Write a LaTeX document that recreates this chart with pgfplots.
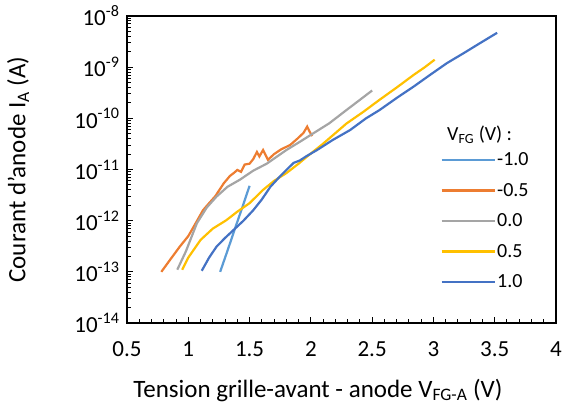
\documentclass[border=0pt]{standalone}
\usepackage{pgfplots}
\pgfplotsset{compat=1.18}
\usepackage{fontspec}
\setmainfont{Carlito}
\definecolor{cLB}{HTML}{5B9BD5}
\definecolor{cOR}{HTML}{ED7D31}
\definecolor{cGR}{HTML}{A5A5A5}
\definecolor{cYE}{HTML}{FFC000}
\definecolor{cDB}{HTML}{4472C4}
\begin{document}
\begin{tikzpicture}
\begin{axis}[
  scale only axis, width=429pt, height=307pt,
  xmin=0.5, xmax=4, ymin=1e-14, ymax=1e-8, ymode=log,
  xtick={0.5,1,1.5,2,2.5,3,3.5,4}, minor x tick num=4,
  ytick={1e-14,1e-13,1e-12,1e-11,1e-10,1e-9,1e-8},
  yticklabels={10\textsuperscript{-14},10\textsuperscript{-13},10\textsuperscript{-12},10\textsuperscript{-11},10\textsuperscript{-10},10\textsuperscript{-9},10\textsuperscript{-8}},
  xticklabel style={/pgf/number format/assume math mode=true, yshift=-15pt},
  yticklabel style={xshift=-4pt},
  tick align=inside, xtick pos=bottom, ytick pos=left,
  major tick length=6pt, minor tick length=4pt,
  axis line style={line width=1.2pt}, tick style={black, line width=1pt},
  tick label style={font=\fontsize{23}{28}\selectfont},
  label style={font=\fontsize{25}{30}\selectfont},
  xlabel={Tension grille-avant - anode V\textsubscript{FG-A} (V)},
  ylabel={Courant d'anode I\textsubscript{A} (A)},
  xlabel style={at={(rel axis cs:0.445,0)}, anchor=center, yshift=-67pt},
  ylabel style={at={(rel axis cs:0,0.5)}, anchor=center, yshift=109pt},
  legend style={draw=none, fill=none, at={(rel axis cs:0.730,0.56)}, anchor=north west, row sep=13pt, font=\fontsize{20}{24}\selectfont, inner sep=0pt, nodes={inner sep=1.5pt}},
  legend cell align=left,
  legend image code/.code={\draw[#1, line width=2.3pt] (0pt,0pt) -- (53pt,0pt);},
  every axis plot/.append style={line width=2.2pt},
]
\addplot[cLB] coordinates {(1.26,1.0e-13) (1.32,2.6e-13) (1.38,6.9e-13) (1.44,1.8e-12) (1.50,4.8e-12)};
\addlegendentry{-1.0}
\addplot[cOR] coordinates {(0.78,1.0e-13) (0.85,1.7e-13) (0.93,3.1e-13) (1.00,5.0e-13) (1.06,8.9e-13) (1.12,1.6e-12) (1.17,2.2e-12) (1.22,3.0e-12) (1.29,5.4e-12) (1.34,7.5e-12) (1.37,8.5e-12) (1.40,9.8e-12) (1.43,9.0e-12) (1.46,1.25e-11) (1.50,1.3e-11) (1.53,1.6e-11) (1.56,2.2e-11) (1.58,1.8e-11) (1.61,2.4e-11) (1.65,1.55e-11) (1.70,2.0e-11) (1.76,2.5e-11) (1.83,3.0e-11) (1.89,4.0e-11) (1.94,5.2e-11) (1.97,6.9e-11) (1.99,5.5e-11) (2.01,4.5e-11)};
\addlegendentry{-0.5}
\addplot[cGR] coordinates {(0.91,1.1e-13) (0.98,2.5e-13) (1.07,8.9e-13) (1.15,1.8e-12) (1.23,2.95e-12) (1.32,4.6e-12) (1.42,6.3e-12) (1.53,9.5e-12) (1.64,1.3e-11) (1.80,2.4e-11) (1.92,3.6e-11) (2.02,5.1e-11) (2.15,8.0e-11) (2.29,1.45e-10) (2.40,2.3e-10) (2.50,3.5e-10)};
\addlegendentry{0.0}
\addplot[cYE] coordinates {(0.95,1.1e-13) (1.00,1.9e-13) (1.10,4.2e-13) (1.20,7.0e-13) (1.31,1.02e-12) (1.40,1.5e-12) (1.50,2.2e-12) (1.61,4.0e-12) (1.70,6.0e-12) (1.80,8.5e-12) (1.90,1.3e-11) (1.97,1.8e-11) (2.10,3.2e-11) (2.29,7.9e-11) (2.43,1.35e-10) (2.56,2.3e-10) (2.70,4.0e-10) (2.84,7.1e-10) (2.93,1.0e-9) (3.01,1.4e-9)};
\addlegendentry{0.5}
\addplot[cDB] coordinates {(1.11,1.05e-13) (1.17,1.9e-13) (1.23,3.1e-13) (1.30,4.6e-13) (1.37,6.6e-13) (1.45,1.0e-12) (1.53,1.6e-12) (1.60,2.6e-12) (1.67,4.6e-12) (1.74,7.0e-12) (1.80,9.8e-12) (1.86,1.35e-11) (1.91,1.5e-11) (1.96,1.8e-11) (2.05,2.4e-11) (2.18,3.8e-11) (2.32,5.9e-11) (2.45,1.0e-10) (2.56,1.45e-10) (2.70,2.5e-10) (2.84,4.2e-10) (2.97,7.0e-10) (3.11,1.2e-9) (3.25,1.9e-9) (3.38,2.95e-9) (3.52,4.7e-9)};
\addlegendentry{1.0}
\node[anchor=west, inner sep=0pt, font=\fontsize{20}{24}\selectfont] at (rel axis cs:0.746,0.612) {V\textsubscript{FG} (V) :};
\end{axis}
\pgfresetboundingbox
\path ([shift={(-127pt,-90pt)}]current axis.south west) rectangle ([shift={(7pt,16pt)}]current axis.north east);
\end{tikzpicture}
\end{document}
